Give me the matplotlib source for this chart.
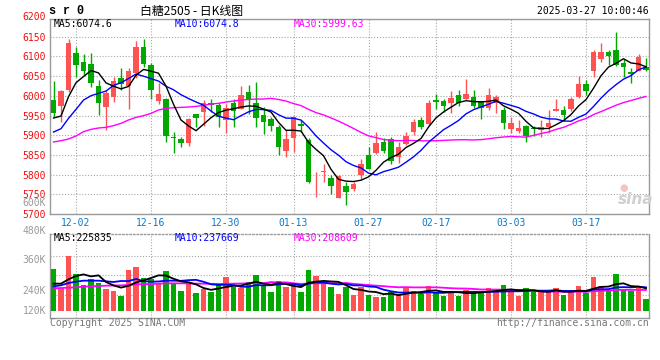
import numpy as np
import pandas as pd
import matplotlib
matplotlib.use("Agg")
import matplotlib.pyplot as plt

# ---------------- data ----------------
opens = [5989, 5974, 6015, 6108, 6085, 6081, 6025, 5972, 5998, 6044,
         6025, 6057, 6125, 6078, 5987, 5993, 5896, 5890, 5881, 5954,
         5958, 5982, 5977, 5938, 5982, 5966, 6009, 5983, 5951, 5940,
         5920, 5860, 5894, 5928, 5889, 5780, 5806, 5791, 5741, 5771,
         5763, 5799, 5850, 5856, 5884, 5890, 5844, 5877, 5909, 5939,
         5928, 5989, 5987, 5983, 6001, 5991, 5996, 5986, 5970, 5981,
         5964, 5916, 5911, 5924, 5919, 5913, 5922, 5962, 5964, 5966,
         5996, 6030, 6063, 6093, 6110, 6116, 6084, 6061, 6064, 6072]
highs = [6037, 6015, 6143, 6125, 6106, 6108, 6040, 6015, 6048, 6070,
         6070, 6139, 6144, 6084, 6032, 5995, 5907, 5895, 5943, 5955,
         5989, 5992, 5981, 5978, 5991, 6026, 6027, 6034, 5972, 5947,
         5926, 5913, 5949, 5939, 5893, 5806, 5827, 5799, 5799, 5780,
         5782, 5840, 5871, 5907, 5892, 5895, 5884, 5909, 5941, 5947,
         5989, 6004, 5993, 6013, 6015, 6043, 6016, 5988, 6019, 6002,
         5971, 5947, 5939, 5926, 5924, 5939, 5964, 5992, 5974, 5998,
         6050, 6040, 6116, 6133, 6116, 6163, 6093, 6070, 6106, 6095]
lows = [5945, 5934, 6010, 6048, 6053, 6023, 5951, 5913, 5985, 6015,
        5966, 6044, 6072, 5992, 5979, 5884, 5856, 5869, 5873, 5922,
        5924, 5960, 5922, 5906, 5922, 5966, 5955, 5922, 5903, 5911,
        5851, 5845, 5858, 5909, 5779, 5742, 5780, 5751, 5741, 5723,
        5759, 5789, 5814, 5852, 5854, 5827, 5829, 5876, 5900, 5915,
        5926, 5966, 5960, 5957, 5974, 5989, 5970, 5940, 5964, 5957,
        5916, 5905, 5905, 5884, 5898, 5895, 5905, 5961, 5937, 5961,
        5995, 6002, 6048, 6087, 6078, 6076, 6048, 6032, 6063, 6064]
closes = [5957, 6012, 6133, 6079, 6064, 6032, 5983, 6006, 6037, 6030,
          6063, 6125, 6080, 6015, 6004, 5899, 5894, 5881, 5940, 5943,
          5981, 5977, 5947, 5970, 5961, 6002, 5991, 5944, 5934, 5923,
          5871, 5890, 5945, 5924, 5780, 5781, 5810, 5772, 5797, 5757,
          5776, 5827, 5814, 5881, 5860, 5835, 5869, 5899, 5933, 5922,
          5981, 5985, 5974, 5994, 5981, 6004, 5974, 5970, 6001, 5998,
          5930, 5930, 5919, 5899, 5915, 5921, 5932, 5966, 5951, 5992,
          6030, 6013, 6110, 6110, 6102, 6077, 6072, 6056, 6098, 6066]
# volume in thousands (K)
volumes = [328, 251, 381, 308, 264, 288, 272, 248, 240, 220,
           324, 337, 292, 287, 273, 320, 273, 240, 267, 233,
           247, 236, 267, 297, 257, 251, 276, 304, 260, 236,
           281, 257, 268, 236, 324, 301, 273, 257, 228, 257,
           224, 257, 224, 217, 215, 237, 224, 251, 240, 228,
           260, 233, 221, 240, 221, 244, 231, 237, 252, 235,
           264, 244, 221, 252, 235, 240, 235, 252, 224, 235,
           260, 231, 296, 260, 241, 308, 248, 241, 251, 208]

# leading moving-average values (window not yet full)
ma5_head = [5943.6, 5948.7, 5997.8, 6033.3]
ma10_head = [5908.1, 5916.6, 5942.8, 5965.6, 5989.3, 6000.3, 6006.2, 6012.2, 6026.5]
ma30_head = [5882.8, 5886.1, 5890.4, 5898.0, 5909.0, 5914.9, 5918.3, 5920.0, 5924.2, 5930.1,
             5938.6, 5945.3, 5949.6, 5955.5, 5964.0, 5968.2, 5969.8, 5970.7, 5971.6, 5973.2,
             5975.8, 5979.2, 5980.9, 5984.2, 5986.8, 5989.3, 5990.6, 5991.8, 5991.8]
vma5_head = [269.4, 269.4, 286.7, 300.0]
vma10_head = [258.7, 262.7, 272.0, 277.3, 281.3, 281.3, 281.3, 278.7, 276.0]
vma30_head = [250.7, 252.0, 253.3, 254.7, 257.3, 258.7, 260.0, 261.3, 262.0, 262.7,
              264.0, 266.7, 267.3, 268.0, 269.3, 270.7, 270.7, 270.7, 270.0, 269.3,
              269.3, 268.7, 268.0, 268.7, 269.3, 270.0, 270.7, 270.7, 270.7]

date_idx = [3, 13, 23, 32, 42, 51, 61, 71]
date_labels = ["12-02", "12-16", "12-30", "01-13", "01-27", "02-17", "03-03", "03-17"]
price_ticks = [5700, 5750, 5800, 5850, 5900, 5950, 6000, 6050, 6100, 6150]

title_text = "白糖2505 - 日K线图"
code_text = "s r 0"
time_text = "2025-03-27 10:00:46"
ma_main = ["MA5:6074.6", "MA10:6074.8", "MA30:5999.63"]
ma_vol = ["MA5:225835", "MA10:237669", "MA30:208609"]
vol_labels = ["600K", "480K", "360K", "240K", "120K"]


def with_head(series, head, win):
    out = pd.Series(series, dtype=float).rolling(win).mean().to_numpy()
    out[:win - 1] = head
    return out


ma5 = with_head(closes, ma5_head, 5)
ma10 = with_head(closes, ma10_head, 10)
ma30 = with_head(closes, ma30_head, 30)
vma5 = with_head(volumes, vma5_head, 5)
vma10 = with_head(volumes, vma10_head, 10)
vma30 = with_head(volumes, vma30_head, 30)

# ---------------- style ----------------
W, H = 660, 360
RED = "#ff5353"
GREEN = "#00a800"
GRID = "#a8a8a8"
BORDER = "#9a9a9a"
MONO = "DejaVu Sans Mono"
FS = 7.0


def fx(px):
    return px / W


def fy(py):
    return 1 - py / H


fig = plt.figure(figsize=(6.6, 3.6), dpi=100)
ax = fig.add_axes([fx(50), fy(214), fx(649) - fx(50), fy(19) - fy(214)])
axv = fig.add_axes([fx(50), fy(318), fx(649) - fx(50), fy(234) - fy(318)])

n = len(closes)
x = np.arange(n)
o = np.array(opens, float)
c = np.array(closes, float)
hi = np.array(highs, float)
lo = np.array(lows, float)
up = c >= o
cols = np.where(up, RED, GREEN)

dot = (0, (1, 1.6))
for a in (ax, axv):
    a.set_xlim(-0.47, 79.4)
    a.set_xticks(date_idx)
    for s in a.spines.values():
        s.set_color(BORDER)
        s.set_linewidth(1.0)
    a.grid(True, color=GRID, linestyle=dot, linewidth=0.8)
    a.set_axisbelow(True)
    a.tick_params(length=0)

# main price axes
ax.set_ylim(5700, 6195)
ax.set_yticks(price_ticks)
ax.set_yticklabels([str(t) for t in price_ticks], fontfamily=MONO, fontsize=FS, color="#ee1111")
ax.tick_params(axis="y", pad=3)
ax.set_xticklabels(date_labels, fontfamily=MONO, fontsize=FS, color="#0a78c8")
ax.tick_params(axis="x", pad=3.2)
ax.text(-4 / 599, 6200, "6200", transform=ax.get_yaxis_transform(), ha="right", va="center",
        fontfamily=MONO, fontsize=FS, color="#ee1111", clip_on=False)

ax.vlines(x, lo, hi, colors=cols, linewidth=1.0, zorder=3)
body = np.maximum(np.abs(c - o), 2.2)
ax.bar(x, body, bottom=np.minimum(o, c), width=0.76, color=cols, linewidth=0, zorder=4)

ax.plot(x, ma30, color="#ff00ff", linewidth=1.0, zorder=5)
ax.plot(x, ma10, color="#0000ff", linewidth=1.0, zorder=6)
ax.plot(x, ma5, color="black", linewidth=1.0, zorder=7)

# volume axes
axv.set_ylim(132, 468)
axv.set_xticklabels([])
axv.spines["top"].set_linestyle(dot)
axv.set_yticks([240 + (291 - 255.7) * 4, 240 + (291 - 275.3) * 4, 240 + (291 - 295) * 4])
axv.set_yticklabels([])
vol = np.array(volumes, float)
axv.bar(x, vol - 160, bottom=160, width=0.78, color=cols, linewidth=0, zorder=3)
axv.plot(x, vma30, color="#ff00ff", linewidth=1.3, zorder=5)
axv.plot(x, vma10, color="#0000ff", linewidth=1.3, zorder=6)
axv.plot(x, vma5, color="black", linewidth=1.3, zorder=7)

# ---------------- texts ----------------
fig.text(fx(49), fy(11), code_text, fontfamily="Liberation Mono", fontweight="bold",
         fontsize=8.5, ha="left", va="center", color="black")
fig.text(fx(140), fy(11), title_text, fontfamily=["Noto Sans CJK SC", "DejaVu Sans"],
         fontsize=8.6, ha="left", va="center", color="black")
fig.text(fx(649), fy(11.5), time_text, fontfamily=MONO, fontsize=FS, ha="right",
         va="center", color="black")

for txt, px, col in zip(ma_main, [54, 175, 294], ["black", "#0000ff", "#ff00ff"]):
    fig.text(fx(px), fy(24), txt, fontfamily=MONO, fontsize=FS, ha="left", va="center", color=col)
for txt, px, col in zip(ma_vol, [54, 175, 294], ["black", "#0000ff", "#ff00ff"]):
    fig.text(fx(px), fy(238), txt, fontfamily=MONO, fontsize=FS, ha="left", va="center", color=col)

grey = "#9a9a9a"
for txt, py in zip(vol_labels, [202.8, 230.8, 260.3, 291.2, 310.5]):
    fig.text(fx(46), fy(py), txt, fontfamily=MONO, fontsize=FS, ha="right", va="center", color=grey)

fig.text(fx(50), fy(323), "Copyright 2025 SINA.COM", fontfamily=MONO, fontsize=FS,
         ha="left", va="center", color="#777777")
fig.text(fx(649), fy(323), "http://finance.sina.com.cn", fontfamily=MONO, fontsize=FS,
         ha="right", va="center", color="#777777")

# sina watermark
fig.text(fx(636), fy(199), "sina", fontfamily="DejaVu Sans", fontstyle="italic",
         fontweight="bold", fontsize=11, ha="center", va="center", color="#cfcfcf")
fig.text(fx(624), fy(188), "●", fontfamily="DejaVu Sans", fontsize=7, ha="center",
         va="center", color="#f3c4c4")

fig.savefig("out.png", dpi=100)
